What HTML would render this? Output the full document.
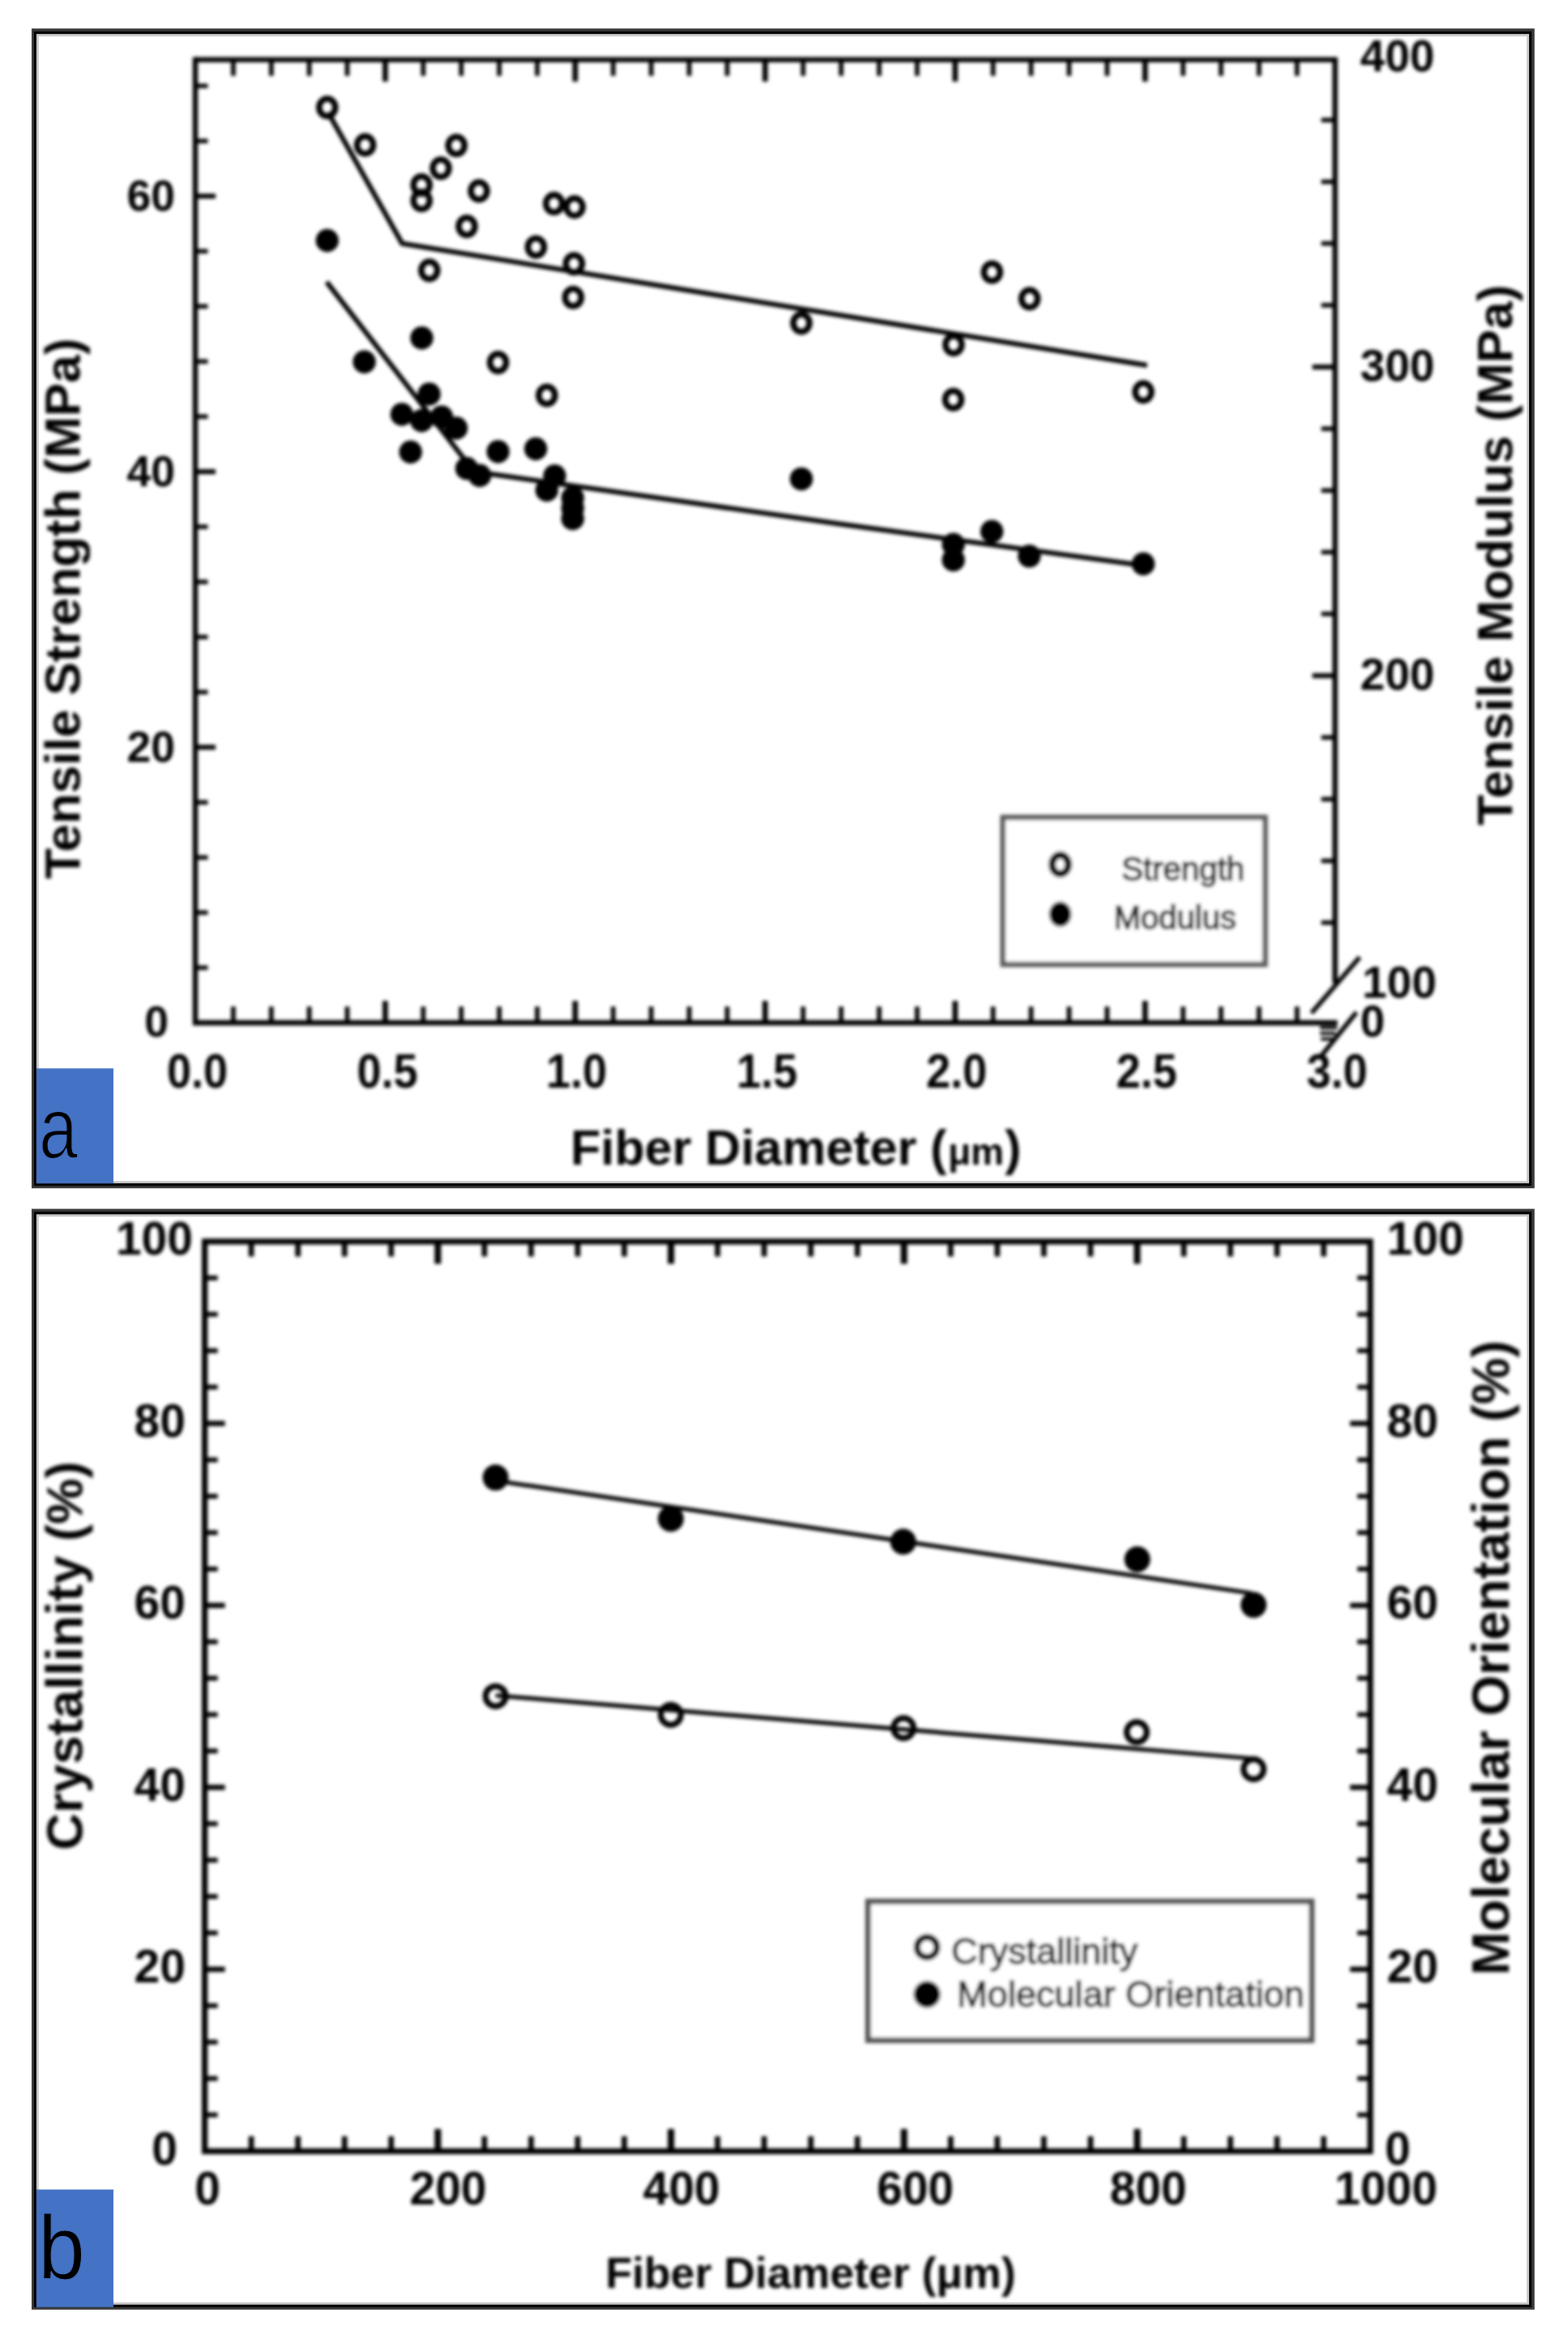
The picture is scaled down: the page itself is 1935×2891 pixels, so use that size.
<!DOCTYPE html>
<html lang="en">
<head>
<meta charset="utf-8">
<title>Fiber diameter vs. tensile properties, crystallinity and molecular orientation</title>
<style>
html,body{margin:0;padding:0;background:#fff;}
body{width:1935px;height:2891px;overflow:hidden;}
svg{display:block;}
svg text{font-family:"Liberation Sans",Arial,Helvetica,sans-serif;}
</style>
</head>
<body>
<svg width="1935" height="2891" viewBox="0 0 1935 2891">
<defs><filter id="soft" x="0" y="0" width="1935" height="2891" filterUnits="userSpaceOnUse"><feGaussianBlur stdDeviation="1.9"/></filter></defs>
<rect x="0" y="0" width="1935" height="2891" fill="#ffffff"/>
<g id="panel-a">
<rect x="39.0" y="35.2" width="1854.7" height="1431.0" fill="#383838"/>
<rect x="42.0" y="38.8" width="1848.0" height="1424.3" fill="#000"/>
<rect x="44.9" y="41.9" width="1842.1" height="1418.2" fill="#c8c8c8"/>
<rect x="47.9" y="44.8" width="1836.2" height="1412.4" fill="#fff"/>
<rect x="45.0" y="1318.3" width="95.0" height="141.9" fill="#4472c4"/>
<text x="48" y="1429" font-size="108" font-weight="normal" fill="#000" stroke="#4472c4" stroke-width="2.2" textLength="48" lengthAdjust="spacingAndGlyphs">a</text>
<g filter="url(#soft)">
<line x1="241.0" y1="70.4" x2="241.0" y2="1265.2" stroke="#000" stroke-width="6.4" stroke-linecap="butt"/>
<line x1="241.0" y1="73.6" x2="1650.7" y2="73.6" stroke="#000" stroke-width="6.4" stroke-linecap="butt"/>
<line x1="1647.5" y1="73.6" x2="1647.5" y2="1213.0" stroke="#000" stroke-width="6.4" stroke-linecap="butt"/>
<line x1="241.0" y1="1262.0" x2="1650.5" y2="1262.0" stroke="#000" stroke-width="6.4" stroke-linecap="butt"/>
<line x1="287.9" y1="73.6" x2="287.9" y2="93.6" stroke="#000" stroke-width="5.6" stroke-linecap="butt"/>
<line x1="287.9" y1="1262.0" x2="287.9" y2="1242.0" stroke="#000" stroke-width="5.6" stroke-linecap="butt"/>
<line x1="334.8" y1="73.6" x2="334.8" y2="93.6" stroke="#000" stroke-width="5.6" stroke-linecap="butt"/>
<line x1="334.8" y1="1262.0" x2="334.8" y2="1242.0" stroke="#000" stroke-width="5.6" stroke-linecap="butt"/>
<line x1="381.6" y1="73.6" x2="381.6" y2="93.6" stroke="#000" stroke-width="5.6" stroke-linecap="butt"/>
<line x1="381.6" y1="1262.0" x2="381.6" y2="1242.0" stroke="#000" stroke-width="5.6" stroke-linecap="butt"/>
<line x1="428.5" y1="73.6" x2="428.5" y2="93.6" stroke="#000" stroke-width="5.6" stroke-linecap="butt"/>
<line x1="428.5" y1="1262.0" x2="428.5" y2="1242.0" stroke="#000" stroke-width="5.6" stroke-linecap="butt"/>
<line x1="475.4" y1="73.6" x2="475.4" y2="100.6" stroke="#000" stroke-width="6.6" stroke-linecap="butt"/>
<line x1="475.4" y1="1262.0" x2="475.4" y2="1235.0" stroke="#000" stroke-width="6.6" stroke-linecap="butt"/>
<line x1="522.3" y1="73.6" x2="522.3" y2="93.6" stroke="#000" stroke-width="5.6" stroke-linecap="butt"/>
<line x1="522.3" y1="1262.0" x2="522.3" y2="1242.0" stroke="#000" stroke-width="5.6" stroke-linecap="butt"/>
<line x1="569.2" y1="73.6" x2="569.2" y2="93.6" stroke="#000" stroke-width="5.6" stroke-linecap="butt"/>
<line x1="569.2" y1="1262.0" x2="569.2" y2="1242.0" stroke="#000" stroke-width="5.6" stroke-linecap="butt"/>
<line x1="616.1" y1="73.6" x2="616.1" y2="93.6" stroke="#000" stroke-width="5.6" stroke-linecap="butt"/>
<line x1="616.1" y1="1262.0" x2="616.1" y2="1242.0" stroke="#000" stroke-width="5.6" stroke-linecap="butt"/>
<line x1="663.0" y1="73.6" x2="663.0" y2="93.6" stroke="#000" stroke-width="5.6" stroke-linecap="butt"/>
<line x1="663.0" y1="1262.0" x2="663.0" y2="1242.0" stroke="#000" stroke-width="5.6" stroke-linecap="butt"/>
<line x1="709.8" y1="73.6" x2="709.8" y2="100.6" stroke="#000" stroke-width="6.6" stroke-linecap="butt"/>
<line x1="709.8" y1="1262.0" x2="709.8" y2="1235.0" stroke="#000" stroke-width="6.6" stroke-linecap="butt"/>
<line x1="756.7" y1="73.6" x2="756.7" y2="93.6" stroke="#000" stroke-width="5.6" stroke-linecap="butt"/>
<line x1="756.7" y1="1262.0" x2="756.7" y2="1242.0" stroke="#000" stroke-width="5.6" stroke-linecap="butt"/>
<line x1="803.6" y1="73.6" x2="803.6" y2="93.6" stroke="#000" stroke-width="5.6" stroke-linecap="butt"/>
<line x1="803.6" y1="1262.0" x2="803.6" y2="1242.0" stroke="#000" stroke-width="5.6" stroke-linecap="butt"/>
<line x1="850.5" y1="73.6" x2="850.5" y2="93.6" stroke="#000" stroke-width="5.6" stroke-linecap="butt"/>
<line x1="850.5" y1="1262.0" x2="850.5" y2="1242.0" stroke="#000" stroke-width="5.6" stroke-linecap="butt"/>
<line x1="897.4" y1="73.6" x2="897.4" y2="93.6" stroke="#000" stroke-width="5.6" stroke-linecap="butt"/>
<line x1="897.4" y1="1262.0" x2="897.4" y2="1242.0" stroke="#000" stroke-width="5.6" stroke-linecap="butt"/>
<line x1="944.2" y1="73.6" x2="944.2" y2="100.6" stroke="#000" stroke-width="6.6" stroke-linecap="butt"/>
<line x1="944.2" y1="1262.0" x2="944.2" y2="1235.0" stroke="#000" stroke-width="6.6" stroke-linecap="butt"/>
<line x1="991.1" y1="73.6" x2="991.1" y2="93.6" stroke="#000" stroke-width="5.6" stroke-linecap="butt"/>
<line x1="991.1" y1="1262.0" x2="991.1" y2="1242.0" stroke="#000" stroke-width="5.6" stroke-linecap="butt"/>
<line x1="1038.0" y1="73.6" x2="1038.0" y2="93.6" stroke="#000" stroke-width="5.6" stroke-linecap="butt"/>
<line x1="1038.0" y1="1262.0" x2="1038.0" y2="1242.0" stroke="#000" stroke-width="5.6" stroke-linecap="butt"/>
<line x1="1084.9" y1="73.6" x2="1084.9" y2="93.6" stroke="#000" stroke-width="5.6" stroke-linecap="butt"/>
<line x1="1084.9" y1="1262.0" x2="1084.9" y2="1242.0" stroke="#000" stroke-width="5.6" stroke-linecap="butt"/>
<line x1="1131.8" y1="73.6" x2="1131.8" y2="93.6" stroke="#000" stroke-width="5.6" stroke-linecap="butt"/>
<line x1="1131.8" y1="1262.0" x2="1131.8" y2="1242.0" stroke="#000" stroke-width="5.6" stroke-linecap="butt"/>
<line x1="1178.7" y1="73.6" x2="1178.7" y2="100.6" stroke="#000" stroke-width="6.6" stroke-linecap="butt"/>
<line x1="1178.7" y1="1262.0" x2="1178.7" y2="1235.0" stroke="#000" stroke-width="6.6" stroke-linecap="butt"/>
<line x1="1225.5" y1="73.6" x2="1225.5" y2="93.6" stroke="#000" stroke-width="5.6" stroke-linecap="butt"/>
<line x1="1225.5" y1="1262.0" x2="1225.5" y2="1242.0" stroke="#000" stroke-width="5.6" stroke-linecap="butt"/>
<line x1="1272.4" y1="73.6" x2="1272.4" y2="93.6" stroke="#000" stroke-width="5.6" stroke-linecap="butt"/>
<line x1="1272.4" y1="1262.0" x2="1272.4" y2="1242.0" stroke="#000" stroke-width="5.6" stroke-linecap="butt"/>
<line x1="1319.3" y1="73.6" x2="1319.3" y2="93.6" stroke="#000" stroke-width="5.6" stroke-linecap="butt"/>
<line x1="1319.3" y1="1262.0" x2="1319.3" y2="1242.0" stroke="#000" stroke-width="5.6" stroke-linecap="butt"/>
<line x1="1366.2" y1="73.6" x2="1366.2" y2="93.6" stroke="#000" stroke-width="5.6" stroke-linecap="butt"/>
<line x1="1366.2" y1="1262.0" x2="1366.2" y2="1242.0" stroke="#000" stroke-width="5.6" stroke-linecap="butt"/>
<line x1="1413.1" y1="73.6" x2="1413.1" y2="100.6" stroke="#000" stroke-width="6.6" stroke-linecap="butt"/>
<line x1="1413.1" y1="1262.0" x2="1413.1" y2="1235.0" stroke="#000" stroke-width="6.6" stroke-linecap="butt"/>
<line x1="1460.0" y1="73.6" x2="1460.0" y2="93.6" stroke="#000" stroke-width="5.6" stroke-linecap="butt"/>
<line x1="1460.0" y1="1262.0" x2="1460.0" y2="1242.0" stroke="#000" stroke-width="5.6" stroke-linecap="butt"/>
<line x1="1506.8" y1="73.6" x2="1506.8" y2="93.6" stroke="#000" stroke-width="5.6" stroke-linecap="butt"/>
<line x1="1506.8" y1="1262.0" x2="1506.8" y2="1242.0" stroke="#000" stroke-width="5.6" stroke-linecap="butt"/>
<line x1="1553.7" y1="73.6" x2="1553.7" y2="93.6" stroke="#000" stroke-width="5.6" stroke-linecap="butt"/>
<line x1="1553.7" y1="1262.0" x2="1553.7" y2="1242.0" stroke="#000" stroke-width="5.6" stroke-linecap="butt"/>
<line x1="1600.6" y1="73.6" x2="1600.6" y2="93.6" stroke="#000" stroke-width="5.6" stroke-linecap="butt"/>
<line x1="1600.6" y1="1262.0" x2="1600.6" y2="1242.0" stroke="#000" stroke-width="5.6" stroke-linecap="butt"/>
<line x1="241.0" y1="1194.0" x2="256.5" y2="1194.0" stroke="#000" stroke-width="5.4" stroke-linecap="butt"/>
<line x1="241.0" y1="1126.0" x2="256.5" y2="1126.0" stroke="#000" stroke-width="5.4" stroke-linecap="butt"/>
<line x1="241.0" y1="1058.0" x2="256.5" y2="1058.0" stroke="#000" stroke-width="5.4" stroke-linecap="butt"/>
<line x1="241.0" y1="990.0" x2="256.5" y2="990.0" stroke="#000" stroke-width="5.4" stroke-linecap="butt"/>
<line x1="241.0" y1="922.0" x2="266.0" y2="922.0" stroke="#000" stroke-width="6.0" stroke-linecap="butt"/>
<line x1="241.0" y1="854.0" x2="256.5" y2="854.0" stroke="#000" stroke-width="5.4" stroke-linecap="butt"/>
<line x1="241.0" y1="786.0" x2="256.5" y2="786.0" stroke="#000" stroke-width="5.4" stroke-linecap="butt"/>
<line x1="241.0" y1="718.0" x2="256.5" y2="718.0" stroke="#000" stroke-width="5.4" stroke-linecap="butt"/>
<line x1="241.0" y1="650.0" x2="256.5" y2="650.0" stroke="#000" stroke-width="5.4" stroke-linecap="butt"/>
<line x1="241.0" y1="582.0" x2="266.0" y2="582.0" stroke="#000" stroke-width="6.0" stroke-linecap="butt"/>
<line x1="241.0" y1="514.0" x2="256.5" y2="514.0" stroke="#000" stroke-width="5.4" stroke-linecap="butt"/>
<line x1="241.0" y1="446.0" x2="256.5" y2="446.0" stroke="#000" stroke-width="5.4" stroke-linecap="butt"/>
<line x1="241.0" y1="378.0" x2="256.5" y2="378.0" stroke="#000" stroke-width="5.4" stroke-linecap="butt"/>
<line x1="241.0" y1="310.0" x2="256.5" y2="310.0" stroke="#000" stroke-width="5.4" stroke-linecap="butt"/>
<line x1="241.0" y1="242.0" x2="266.0" y2="242.0" stroke="#000" stroke-width="6.0" stroke-linecap="butt"/>
<line x1="241.0" y1="174.0" x2="256.5" y2="174.0" stroke="#000" stroke-width="5.4" stroke-linecap="butt"/>
<line x1="241.0" y1="106.0" x2="256.5" y2="106.0" stroke="#000" stroke-width="5.4" stroke-linecap="butt"/>
<line x1="1647.5" y1="1138.4" x2="1630.5" y2="1138.4" stroke="#000" stroke-width="5.4" stroke-linecap="butt"/>
<line x1="1647.5" y1="1062.2" x2="1630.5" y2="1062.2" stroke="#000" stroke-width="5.4" stroke-linecap="butt"/>
<line x1="1647.5" y1="986.1" x2="1630.5" y2="986.1" stroke="#000" stroke-width="5.4" stroke-linecap="butt"/>
<line x1="1647.5" y1="909.9" x2="1630.5" y2="909.9" stroke="#000" stroke-width="5.4" stroke-linecap="butt"/>
<line x1="1647.5" y1="833.7" x2="1619.5" y2="833.7" stroke="#000" stroke-width="6.0" stroke-linecap="butt"/>
<line x1="1647.5" y1="757.5" x2="1630.5" y2="757.5" stroke="#000" stroke-width="5.4" stroke-linecap="butt"/>
<line x1="1647.5" y1="681.3" x2="1630.5" y2="681.3" stroke="#000" stroke-width="5.4" stroke-linecap="butt"/>
<line x1="1647.5" y1="605.2" x2="1630.5" y2="605.2" stroke="#000" stroke-width="5.4" stroke-linecap="butt"/>
<line x1="1647.5" y1="529.0" x2="1630.5" y2="529.0" stroke="#000" stroke-width="5.4" stroke-linecap="butt"/>
<line x1="1647.5" y1="452.8" x2="1619.5" y2="452.8" stroke="#000" stroke-width="6.0" stroke-linecap="butt"/>
<line x1="1647.5" y1="376.6" x2="1630.5" y2="376.6" stroke="#000" stroke-width="5.4" stroke-linecap="butt"/>
<line x1="1647.5" y1="300.4" x2="1630.5" y2="300.4" stroke="#000" stroke-width="5.4" stroke-linecap="butt"/>
<line x1="1647.5" y1="224.3" x2="1630.5" y2="224.3" stroke="#000" stroke-width="5.4" stroke-linecap="butt"/>
<line x1="1647.5" y1="148.1" x2="1630.5" y2="148.1" stroke="#000" stroke-width="5.4" stroke-linecap="butt"/>
<line x1="1618.5" y1="1250.0" x2="1678.0" y2="1181.0" stroke="#000" stroke-width="5.6" stroke-linecap="butt"/>
<line x1="1628.0" y1="1306.0" x2="1674.0" y2="1249.0" stroke="#000" stroke-width="5.6" stroke-linecap="butt"/>
<line x1="1629.0" y1="1268.0" x2="1650.0" y2="1268.0" stroke="#000" stroke-width="4" stroke-linecap="butt"/>
<line x1="1629.0" y1="1275.0" x2="1648.0" y2="1275.0" stroke="#000" stroke-width="4" stroke-linecap="butt"/>
<line x1="1630.0" y1="1282.0" x2="1645.0" y2="1282.0" stroke="#000" stroke-width="4" stroke-linecap="butt"/>
<text x="216.0" y="259.7" font-size="53.5" font-weight="bold" text-anchor="end" fill="#000" >60</text>
<text x="216.0" y="599.7" font-size="53.5" font-weight="bold" text-anchor="end" fill="#000" >40</text>
<text x="216.0" y="939.7" font-size="53.5" font-weight="bold" text-anchor="end" fill="#000" >20</text>
<text x="208.0" y="1279.2" font-size="53.5" font-weight="bold" text-anchor="end" fill="#000" >0</text>
<text transform="translate(243.5 1341.5) scale(0.91 1)" font-size="59.4" font-weight="bold" text-anchor="middle" fill="#000">0.0</text>
<text transform="translate(478 1341.5) scale(0.91 1)" font-size="59.4" font-weight="bold" text-anchor="middle" fill="#000">0.5</text>
<text transform="translate(711.5 1341.5) scale(0.91 1)" font-size="59.4" font-weight="bold" text-anchor="middle" fill="#000">1.0</text>
<text transform="translate(946.5 1341.5) scale(0.91 1)" font-size="59.4" font-weight="bold" text-anchor="middle" fill="#000">1.5</text>
<text transform="translate(1180.5 1341.5) scale(0.91 1)" font-size="59.4" font-weight="bold" text-anchor="middle" fill="#000">2.0</text>
<text transform="translate(1415 1341.5) scale(0.91 1)" font-size="59.4" font-weight="bold" text-anchor="middle" fill="#000">2.5</text>
<text transform="translate(1650 1341.5) scale(0.91 1)" font-size="59.4" font-weight="bold" text-anchor="middle" fill="#000">3.0</text>
<text x="1678.6" y="88.2" font-size="55" font-weight="bold" text-anchor="start" fill="#000" >400</text>
<text x="1678.6" y="470.4" font-size="55" font-weight="bold" text-anchor="start" fill="#000" >300</text>
<text x="1678.6" y="850.7" font-size="55" font-weight="bold" text-anchor="start" fill="#000" >200</text>
<text x="1681.0" y="1231.2" font-size="55" font-weight="bold" text-anchor="start" fill="#000" >100</text>
<text x="1678.5" y="1278.5" font-size="55" font-weight="bold" text-anchor="start" fill="#000" >0</text>
<text transform="translate(98.4 751) rotate(-90)" font-size="62" font-weight="bold" text-anchor="middle" fill="#000">Tensile Strength (MPa)</text>
<text transform="translate(1866 685) rotate(-90)" font-size="62" font-weight="bold" text-anchor="middle" fill="#000">Tensile Modulus (MPa)</text>
<text x="704" y="1436.5" font-size="61" font-weight="bold" fill="#000">Fiber Diameter <tspan>(</tspan><tspan font-size="46" dx="1.5">μm</tspan><tspan dx="1">)</tspan></text>
<polyline points="405,139 496.3,300.5 1415.6,450.8" fill="none" stroke="#000" stroke-width="6" stroke-linejoin="miter"/>
<polyline points="403.1,347.9 585,582 1040,647 1412,698" fill="none" stroke="#000" stroke-width="6" stroke-linejoin="miter"/>
<ellipse cx="403.8" cy="132.6" rx="10" ry="10.8" fill="none" stroke="#000" stroke-width="7.6"/>
<ellipse cx="450.6" cy="178.9" rx="10" ry="10.8" fill="none" stroke="#000" stroke-width="7.6"/>
<ellipse cx="563.2" cy="179.5" rx="10" ry="10.8" fill="none" stroke="#000" stroke-width="7.6"/>
<ellipse cx="544" cy="207.6" rx="10" ry="10.8" fill="none" stroke="#000" stroke-width="7.6"/>
<ellipse cx="520.2" cy="228.3" rx="10" ry="10.8" fill="none" stroke="#000" stroke-width="7.6"/>
<ellipse cx="520.2" cy="247.4" rx="10" ry="10.8" fill="none" stroke="#000" stroke-width="7.6"/>
<ellipse cx="591" cy="235.6" rx="10" ry="10.8" fill="none" stroke="#000" stroke-width="7.6"/>
<ellipse cx="576" cy="279.3" rx="10" ry="10.8" fill="none" stroke="#000" stroke-width="7.6"/>
<ellipse cx="683.7" cy="251.2" rx="10" ry="10.8" fill="none" stroke="#000" stroke-width="7.6"/>
<ellipse cx="709" cy="255.4" rx="10" ry="10.8" fill="none" stroke="#000" stroke-width="7.6"/>
<ellipse cx="661.4" cy="304.8" rx="10" ry="10.8" fill="none" stroke="#000" stroke-width="7.6"/>
<ellipse cx="708.3" cy="325.5" rx="10" ry="10.8" fill="none" stroke="#000" stroke-width="7.6"/>
<ellipse cx="529.8" cy="333.6" rx="10" ry="10.8" fill="none" stroke="#000" stroke-width="7.6"/>
<ellipse cx="707.3" cy="367" rx="10" ry="10.8" fill="none" stroke="#000" stroke-width="7.6"/>
<ellipse cx="614.6" cy="447.3" rx="10" ry="10.8" fill="none" stroke="#000" stroke-width="7.6"/>
<ellipse cx="674.8" cy="487.8" rx="10" ry="10.8" fill="none" stroke="#000" stroke-width="7.6"/>
<ellipse cx="988.9" cy="398.6" rx="10" ry="10.8" fill="none" stroke="#000" stroke-width="7.6"/>
<ellipse cx="1176.8" cy="425.3" rx="10" ry="10.8" fill="none" stroke="#000" stroke-width="7.6"/>
<ellipse cx="1224.2" cy="335.8" rx="10" ry="10.8" fill="none" stroke="#000" stroke-width="7.6"/>
<ellipse cx="1270.5" cy="368.6" rx="10" ry="10.8" fill="none" stroke="#000" stroke-width="7.6"/>
<ellipse cx="1176.4" cy="493" rx="10" ry="10.8" fill="none" stroke="#000" stroke-width="7.6"/>
<ellipse cx="1410.9" cy="483.6" rx="10" ry="10.8" fill="none" stroke="#000" stroke-width="7.6"/>
<circle cx="403.8" cy="296.8" r="14.2" fill="#000"/>
<circle cx="449.6" cy="446.5" r="14.2" fill="#000"/>
<circle cx="520.5" cy="417" r="14.2" fill="#000"/>
<circle cx="529.6" cy="486.2" r="14.2" fill="#000"/>
<circle cx="495.9" cy="511.3" r="14.2" fill="#000"/>
<circle cx="520.3" cy="519" r="14.2" fill="#000"/>
<circle cx="545" cy="514.5" r="14.2" fill="#000"/>
<circle cx="563" cy="528.2" r="14.2" fill="#000"/>
<circle cx="506.7" cy="557.7" r="14.2" fill="#000"/>
<circle cx="614.6" cy="557.3" r="14.2" fill="#000"/>
<circle cx="661.1" cy="553.8" r="14.2" fill="#000"/>
<circle cx="576" cy="578" r="14.2" fill="#000"/>
<circle cx="592" cy="586.8" r="14.2" fill="#000"/>
<circle cx="684.4" cy="587.3" r="14.2" fill="#000"/>
<circle cx="674.8" cy="604.8" r="14.2" fill="#000"/>
<circle cx="706.7" cy="614.4" r="14.2" fill="#000"/>
<circle cx="706.7" cy="627.1" r="14.2" fill="#000"/>
<circle cx="706.7" cy="639.9" r="14.2" fill="#000"/>
<circle cx="988.9" cy="590.9" r="14.2" fill="#000"/>
<circle cx="1176.5" cy="671.8" r="14.2" fill="#000"/>
<circle cx="1176.5" cy="690.9" r="14.2" fill="#000"/>
<circle cx="1224" cy="655.8" r="14.2" fill="#000"/>
<circle cx="1270.2" cy="686.1" r="14.2" fill="#000"/>
<circle cx="1410.9" cy="695.7" r="14.2" fill="#000"/>
<rect x="1237.6" y="1008.6" width="323.6" height="181.4" fill="#fff" stroke="#5c5c5c" stroke-width="6.6"/>
<ellipse cx="1308.4" cy="1066.7" rx="10" ry="11.6" fill="none" stroke="#000" stroke-width="9"/>
<ellipse cx="1308.4" cy="1128" rx="13.8" ry="15.6" fill="#000"/>
<text x="1384.0" y="1086.0" font-size="40.2" font-weight="normal" text-anchor="start" fill="#222" stroke="#222" stroke-width="1.5">Strength</text>
<text x="1374.5" y="1146.0" font-size="40" font-weight="normal" text-anchor="start" fill="#222" stroke="#222" stroke-width="1.5">Modulus</text>
</g>
</g>
<g id="panel-b">
<rect x="39.0" y="1491.6" width="1854.7" height="1358.2" fill="#383838"/>
<rect x="42.0" y="1495.2" width="1848.0" height="1351.5" fill="#000"/>
<rect x="44.9" y="1498.3" width="1842.1" height="1345.4" fill="#c8c8c8"/>
<rect x="47.9" y="1501.2" width="1836.2" height="1339.6" fill="#fff"/>
<rect x="45.0" y="2701.6" width="95.0" height="145.2" fill="#4472c4"/>
<text x="47" y="2811.5" font-size="112" font-weight="normal" fill="#000" stroke="#4472c4" stroke-width="1.2" textLength="58" lengthAdjust="spacingAndGlyphs">b</text>
<g filter="url(#soft)">
<rect x="252.6" y="1531.9" width="1438.4" height="1122.5" fill="none" stroke="#000" stroke-width="7.2"/>
<line x1="310.1" y1="1531.9" x2="310.1" y2="1550.4" stroke="#000" stroke-width="6.6" stroke-linecap="butt"/>
<line x1="310.1" y1="2654.4" x2="310.1" y2="2635.9" stroke="#000" stroke-width="6.6" stroke-linecap="butt"/>
<line x1="367.7" y1="1531.9" x2="367.7" y2="1550.4" stroke="#000" stroke-width="6.6" stroke-linecap="butt"/>
<line x1="367.7" y1="2654.4" x2="367.7" y2="2635.9" stroke="#000" stroke-width="6.6" stroke-linecap="butt"/>
<line x1="425.2" y1="1531.9" x2="425.2" y2="1550.4" stroke="#000" stroke-width="6.6" stroke-linecap="butt"/>
<line x1="425.2" y1="2654.4" x2="425.2" y2="2635.9" stroke="#000" stroke-width="6.6" stroke-linecap="butt"/>
<line x1="482.7" y1="1531.9" x2="482.7" y2="1550.4" stroke="#000" stroke-width="6.6" stroke-linecap="butt"/>
<line x1="482.7" y1="2654.4" x2="482.7" y2="2635.9" stroke="#000" stroke-width="6.6" stroke-linecap="butt"/>
<line x1="540.3" y1="1531.9" x2="540.3" y2="1559.4" stroke="#000" stroke-width="8" stroke-linecap="butt"/>
<line x1="540.3" y1="2654.4" x2="540.3" y2="2626.9" stroke="#000" stroke-width="8" stroke-linecap="butt"/>
<line x1="597.8" y1="1531.9" x2="597.8" y2="1550.4" stroke="#000" stroke-width="6.6" stroke-linecap="butt"/>
<line x1="597.8" y1="2654.4" x2="597.8" y2="2635.9" stroke="#000" stroke-width="6.6" stroke-linecap="butt"/>
<line x1="655.4" y1="1531.9" x2="655.4" y2="1550.4" stroke="#000" stroke-width="6.6" stroke-linecap="butt"/>
<line x1="655.4" y1="2654.4" x2="655.4" y2="2635.9" stroke="#000" stroke-width="6.6" stroke-linecap="butt"/>
<line x1="712.9" y1="1531.9" x2="712.9" y2="1550.4" stroke="#000" stroke-width="6.6" stroke-linecap="butt"/>
<line x1="712.9" y1="2654.4" x2="712.9" y2="2635.9" stroke="#000" stroke-width="6.6" stroke-linecap="butt"/>
<line x1="770.4" y1="1531.9" x2="770.4" y2="1550.4" stroke="#000" stroke-width="6.6" stroke-linecap="butt"/>
<line x1="770.4" y1="2654.4" x2="770.4" y2="2635.9" stroke="#000" stroke-width="6.6" stroke-linecap="butt"/>
<line x1="828.0" y1="1531.9" x2="828.0" y2="1559.4" stroke="#000" stroke-width="8" stroke-linecap="butt"/>
<line x1="828.0" y1="2654.4" x2="828.0" y2="2626.9" stroke="#000" stroke-width="8" stroke-linecap="butt"/>
<line x1="885.5" y1="1531.9" x2="885.5" y2="1550.4" stroke="#000" stroke-width="6.6" stroke-linecap="butt"/>
<line x1="885.5" y1="2654.4" x2="885.5" y2="2635.9" stroke="#000" stroke-width="6.6" stroke-linecap="butt"/>
<line x1="943.0" y1="1531.9" x2="943.0" y2="1550.4" stroke="#000" stroke-width="6.6" stroke-linecap="butt"/>
<line x1="943.0" y1="2654.4" x2="943.0" y2="2635.9" stroke="#000" stroke-width="6.6" stroke-linecap="butt"/>
<line x1="1000.6" y1="1531.9" x2="1000.6" y2="1550.4" stroke="#000" stroke-width="6.6" stroke-linecap="butt"/>
<line x1="1000.6" y1="2654.4" x2="1000.6" y2="2635.9" stroke="#000" stroke-width="6.6" stroke-linecap="butt"/>
<line x1="1058.1" y1="1531.9" x2="1058.1" y2="1550.4" stroke="#000" stroke-width="6.6" stroke-linecap="butt"/>
<line x1="1058.1" y1="2654.4" x2="1058.1" y2="2635.9" stroke="#000" stroke-width="6.6" stroke-linecap="butt"/>
<line x1="1115.6" y1="1531.9" x2="1115.6" y2="1559.4" stroke="#000" stroke-width="8" stroke-linecap="butt"/>
<line x1="1115.6" y1="2654.4" x2="1115.6" y2="2626.9" stroke="#000" stroke-width="8" stroke-linecap="butt"/>
<line x1="1173.2" y1="1531.9" x2="1173.2" y2="1550.4" stroke="#000" stroke-width="6.6" stroke-linecap="butt"/>
<line x1="1173.2" y1="2654.4" x2="1173.2" y2="2635.9" stroke="#000" stroke-width="6.6" stroke-linecap="butt"/>
<line x1="1230.7" y1="1531.9" x2="1230.7" y2="1550.4" stroke="#000" stroke-width="6.6" stroke-linecap="butt"/>
<line x1="1230.7" y1="2654.4" x2="1230.7" y2="2635.9" stroke="#000" stroke-width="6.6" stroke-linecap="butt"/>
<line x1="1288.2" y1="1531.9" x2="1288.2" y2="1550.4" stroke="#000" stroke-width="6.6" stroke-linecap="butt"/>
<line x1="1288.2" y1="2654.4" x2="1288.2" y2="2635.9" stroke="#000" stroke-width="6.6" stroke-linecap="butt"/>
<line x1="1345.8" y1="1531.9" x2="1345.8" y2="1550.4" stroke="#000" stroke-width="6.6" stroke-linecap="butt"/>
<line x1="1345.8" y1="2654.4" x2="1345.8" y2="2635.9" stroke="#000" stroke-width="6.6" stroke-linecap="butt"/>
<line x1="1403.3" y1="1531.9" x2="1403.3" y2="1559.4" stroke="#000" stroke-width="8" stroke-linecap="butt"/>
<line x1="1403.3" y1="2654.4" x2="1403.3" y2="2626.9" stroke="#000" stroke-width="8" stroke-linecap="butt"/>
<line x1="1460.9" y1="1531.9" x2="1460.9" y2="1550.4" stroke="#000" stroke-width="6.6" stroke-linecap="butt"/>
<line x1="1460.9" y1="2654.4" x2="1460.9" y2="2635.9" stroke="#000" stroke-width="6.6" stroke-linecap="butt"/>
<line x1="1518.4" y1="1531.9" x2="1518.4" y2="1550.4" stroke="#000" stroke-width="6.6" stroke-linecap="butt"/>
<line x1="1518.4" y1="2654.4" x2="1518.4" y2="2635.9" stroke="#000" stroke-width="6.6" stroke-linecap="butt"/>
<line x1="1575.9" y1="1531.9" x2="1575.9" y2="1550.4" stroke="#000" stroke-width="6.6" stroke-linecap="butt"/>
<line x1="1575.9" y1="2654.4" x2="1575.9" y2="2635.9" stroke="#000" stroke-width="6.6" stroke-linecap="butt"/>
<line x1="1633.5" y1="1531.9" x2="1633.5" y2="1550.4" stroke="#000" stroke-width="6.6" stroke-linecap="butt"/>
<line x1="1633.5" y1="2654.4" x2="1633.5" y2="2635.9" stroke="#000" stroke-width="6.6" stroke-linecap="butt"/>
<line x1="252.6" y1="2609.5" x2="268.6" y2="2609.5" stroke="#000" stroke-width="5.8" stroke-linecap="butt"/>
<line x1="1691.0" y1="2609.5" x2="1675.0" y2="2609.5" stroke="#000" stroke-width="5.8" stroke-linecap="butt"/>
<line x1="252.6" y1="2564.6" x2="268.6" y2="2564.6" stroke="#000" stroke-width="5.8" stroke-linecap="butt"/>
<line x1="1691.0" y1="2564.6" x2="1675.0" y2="2564.6" stroke="#000" stroke-width="5.8" stroke-linecap="butt"/>
<line x1="252.6" y1="2519.7" x2="268.6" y2="2519.7" stroke="#000" stroke-width="5.8" stroke-linecap="butt"/>
<line x1="1691.0" y1="2519.7" x2="1675.0" y2="2519.7" stroke="#000" stroke-width="5.8" stroke-linecap="butt"/>
<line x1="252.6" y1="2474.8" x2="268.6" y2="2474.8" stroke="#000" stroke-width="5.8" stroke-linecap="butt"/>
<line x1="1691.0" y1="2474.8" x2="1675.0" y2="2474.8" stroke="#000" stroke-width="5.8" stroke-linecap="butt"/>
<line x1="252.6" y1="2429.9" x2="277.6" y2="2429.9" stroke="#000" stroke-width="6.4" stroke-linecap="butt"/>
<line x1="1691.0" y1="2429.9" x2="1666.0" y2="2429.9" stroke="#000" stroke-width="6.4" stroke-linecap="butt"/>
<line x1="252.6" y1="2385.0" x2="268.6" y2="2385.0" stroke="#000" stroke-width="5.8" stroke-linecap="butt"/>
<line x1="1691.0" y1="2385.0" x2="1675.0" y2="2385.0" stroke="#000" stroke-width="5.8" stroke-linecap="butt"/>
<line x1="252.6" y1="2340.1" x2="268.6" y2="2340.1" stroke="#000" stroke-width="5.8" stroke-linecap="butt"/>
<line x1="1691.0" y1="2340.1" x2="1675.0" y2="2340.1" stroke="#000" stroke-width="5.8" stroke-linecap="butt"/>
<line x1="252.6" y1="2295.2" x2="268.6" y2="2295.2" stroke="#000" stroke-width="5.8" stroke-linecap="butt"/>
<line x1="1691.0" y1="2295.2" x2="1675.0" y2="2295.2" stroke="#000" stroke-width="5.8" stroke-linecap="butt"/>
<line x1="252.6" y1="2250.3" x2="268.6" y2="2250.3" stroke="#000" stroke-width="5.8" stroke-linecap="butt"/>
<line x1="1691.0" y1="2250.3" x2="1675.0" y2="2250.3" stroke="#000" stroke-width="5.8" stroke-linecap="butt"/>
<line x1="252.6" y1="2205.4" x2="277.6" y2="2205.4" stroke="#000" stroke-width="6.4" stroke-linecap="butt"/>
<line x1="1691.0" y1="2205.4" x2="1666.0" y2="2205.4" stroke="#000" stroke-width="6.4" stroke-linecap="butt"/>
<line x1="252.6" y1="2160.5" x2="268.6" y2="2160.5" stroke="#000" stroke-width="5.8" stroke-linecap="butt"/>
<line x1="1691.0" y1="2160.5" x2="1675.0" y2="2160.5" stroke="#000" stroke-width="5.8" stroke-linecap="butt"/>
<line x1="252.6" y1="2115.6" x2="268.6" y2="2115.6" stroke="#000" stroke-width="5.8" stroke-linecap="butt"/>
<line x1="1691.0" y1="2115.6" x2="1675.0" y2="2115.6" stroke="#000" stroke-width="5.8" stroke-linecap="butt"/>
<line x1="252.6" y1="2070.7" x2="268.6" y2="2070.7" stroke="#000" stroke-width="5.8" stroke-linecap="butt"/>
<line x1="1691.0" y1="2070.7" x2="1675.0" y2="2070.7" stroke="#000" stroke-width="5.8" stroke-linecap="butt"/>
<line x1="252.6" y1="2025.8" x2="268.6" y2="2025.8" stroke="#000" stroke-width="5.8" stroke-linecap="butt"/>
<line x1="1691.0" y1="2025.8" x2="1675.0" y2="2025.8" stroke="#000" stroke-width="5.8" stroke-linecap="butt"/>
<line x1="252.6" y1="1980.9" x2="277.6" y2="1980.9" stroke="#000" stroke-width="6.4" stroke-linecap="butt"/>
<line x1="1691.0" y1="1980.9" x2="1666.0" y2="1980.9" stroke="#000" stroke-width="6.4" stroke-linecap="butt"/>
<line x1="252.6" y1="1936.0" x2="268.6" y2="1936.0" stroke="#000" stroke-width="5.8" stroke-linecap="butt"/>
<line x1="1691.0" y1="1936.0" x2="1675.0" y2="1936.0" stroke="#000" stroke-width="5.8" stroke-linecap="butt"/>
<line x1="252.6" y1="1891.1" x2="268.6" y2="1891.1" stroke="#000" stroke-width="5.8" stroke-linecap="butt"/>
<line x1="1691.0" y1="1891.1" x2="1675.0" y2="1891.1" stroke="#000" stroke-width="5.8" stroke-linecap="butt"/>
<line x1="252.6" y1="1846.2" x2="268.6" y2="1846.2" stroke="#000" stroke-width="5.8" stroke-linecap="butt"/>
<line x1="1691.0" y1="1846.2" x2="1675.0" y2="1846.2" stroke="#000" stroke-width="5.8" stroke-linecap="butt"/>
<line x1="252.6" y1="1801.3" x2="268.6" y2="1801.3" stroke="#000" stroke-width="5.8" stroke-linecap="butt"/>
<line x1="1691.0" y1="1801.3" x2="1675.0" y2="1801.3" stroke="#000" stroke-width="5.8" stroke-linecap="butt"/>
<line x1="252.6" y1="1756.4" x2="277.6" y2="1756.4" stroke="#000" stroke-width="6.4" stroke-linecap="butt"/>
<line x1="1691.0" y1="1756.4" x2="1666.0" y2="1756.4" stroke="#000" stroke-width="6.4" stroke-linecap="butt"/>
<line x1="252.6" y1="1711.5" x2="268.6" y2="1711.5" stroke="#000" stroke-width="5.8" stroke-linecap="butt"/>
<line x1="1691.0" y1="1711.5" x2="1675.0" y2="1711.5" stroke="#000" stroke-width="5.8" stroke-linecap="butt"/>
<line x1="252.6" y1="1666.6" x2="268.6" y2="1666.6" stroke="#000" stroke-width="5.8" stroke-linecap="butt"/>
<line x1="1691.0" y1="1666.6" x2="1675.0" y2="1666.6" stroke="#000" stroke-width="5.8" stroke-linecap="butt"/>
<line x1="252.6" y1="1621.7" x2="268.6" y2="1621.7" stroke="#000" stroke-width="5.8" stroke-linecap="butt"/>
<line x1="1691.0" y1="1621.7" x2="1675.0" y2="1621.7" stroke="#000" stroke-width="5.8" stroke-linecap="butt"/>
<line x1="252.6" y1="1576.8" x2="268.6" y2="1576.8" stroke="#000" stroke-width="5.8" stroke-linecap="butt"/>
<line x1="1691.0" y1="1576.8" x2="1675.0" y2="1576.8" stroke="#000" stroke-width="5.8" stroke-linecap="butt"/>
<text x="238.0" y="1548.1" font-size="57" font-weight="bold" text-anchor="end" fill="#000" >100</text>
<text x="1711.5" y="1548.1" font-size="57" font-weight="bold" text-anchor="start" fill="#000" >100</text>
<text x="229.0" y="1772.6" font-size="57" font-weight="bold" text-anchor="end" fill="#000" >80</text>
<text x="1711.5" y="1772.6" font-size="57" font-weight="bold" text-anchor="start" fill="#000" >80</text>
<text x="229.0" y="1997.1" font-size="57" font-weight="bold" text-anchor="end" fill="#000" >60</text>
<text x="1711.5" y="1997.1" font-size="57" font-weight="bold" text-anchor="start" fill="#000" >60</text>
<text x="229.0" y="2221.6" font-size="57" font-weight="bold" text-anchor="end" fill="#000" >40</text>
<text x="1711.5" y="2221.6" font-size="57" font-weight="bold" text-anchor="start" fill="#000" >40</text>
<text x="229.0" y="2446.1" font-size="57" font-weight="bold" text-anchor="end" fill="#000" >20</text>
<text x="1711.5" y="2446.1" font-size="57" font-weight="bold" text-anchor="start" fill="#000" >20</text>
<text x="219.0" y="2670.6" font-size="57" font-weight="bold" text-anchor="end" fill="#000" >0</text>
<text x="1709.0" y="2670.6" font-size="57" font-weight="bold" text-anchor="start" fill="#000" >0</text>
<text x="256.0" y="2719.6" font-size="57" font-weight="bold" text-anchor="middle" fill="#000" >0</text>
<text x="553.0" y="2719.6" font-size="57" font-weight="bold" text-anchor="middle" fill="#000" >200</text>
<text x="841.0" y="2719.6" font-size="57" font-weight="bold" text-anchor="middle" fill="#000" >400</text>
<text x="1129.5" y="2719.6" font-size="57" font-weight="bold" text-anchor="middle" fill="#000" >600</text>
<text x="1417.0" y="2719.6" font-size="57" font-weight="bold" text-anchor="middle" fill="#000" >800</text>
<text x="1710.5" y="2719.6" font-size="57" font-weight="bold" text-anchor="middle" fill="#000" >1000</text>
<text transform="translate(101.4 2043) rotate(-90)" font-size="63.5" font-weight="bold" text-anchor="middle" fill="#000">Crystallinity (%)</text>
<text transform="translate(1862 2045.6) rotate(-90)" font-size="64.7" font-weight="bold" text-anchor="middle" fill="#000">Molecular Orientation (%)</text>
<text x="1000.4" y="2822.6" font-size="53.6" font-weight="bold" text-anchor="middle" fill="#000">Fiber Diameter (μm)</text>
<line x1="611.6" y1="1827.0" x2="1545.0" y2="1966.0" stroke="#000" stroke-width="5.2" stroke-linecap="butt"/>
<line x1="611.6" y1="2092.0" x2="1547.0" y2="2170.0" stroke="#000" stroke-width="5.2" stroke-linecap="butt"/>
<circle cx="611.6" cy="2092.9" r="12.4" fill="none" stroke="#000" stroke-width="7.2"/>
<circle cx="827.8" cy="2115.9" r="12.4" fill="none" stroke="#000" stroke-width="7.2"/>
<circle cx="1115" cy="2132.2" r="12.4" fill="none" stroke="#000" stroke-width="7.2"/>
<circle cx="1402.8" cy="2137.2" r="12.4" fill="none" stroke="#000" stroke-width="7.2"/>
<circle cx="1547" cy="2183" r="12.4" fill="none" stroke="#000" stroke-width="7.2"/>
<circle cx="611.6" cy="1823.1" r="16" fill="#000"/>
<circle cx="827.8" cy="1874" r="16" fill="#000"/>
<circle cx="1114.6" cy="1902.2" r="16" fill="#000"/>
<circle cx="1403.5" cy="1924" r="16" fill="#000"/>
<circle cx="1547" cy="1980.3" r="16" fill="#000"/>
<rect x="1071.2" y="2346.2" width="547.4" height="171.2" fill="#fff" stroke="#555" stroke-width="7"/>
<circle cx="1144" cy="2402.7" r="12.4" fill="none" stroke="#000" stroke-width="8"/>
<circle cx="1144" cy="2460.8" r="16.6" fill="#000"/>
<text x="1174.0" y="2422.5" font-size="45" font-weight="normal" text-anchor="start" fill="#1c1c1c" stroke="#1c1c1c" stroke-width="1.3">Crystallinity</text>
<text x="1181.0" y="2476.0" font-size="45.1" font-weight="normal" text-anchor="start" fill="#1c1c1c" stroke="#1c1c1c" stroke-width="1.3">Molecular Orientation</text>
</g>
</g>
</svg>
</body>
</html>
